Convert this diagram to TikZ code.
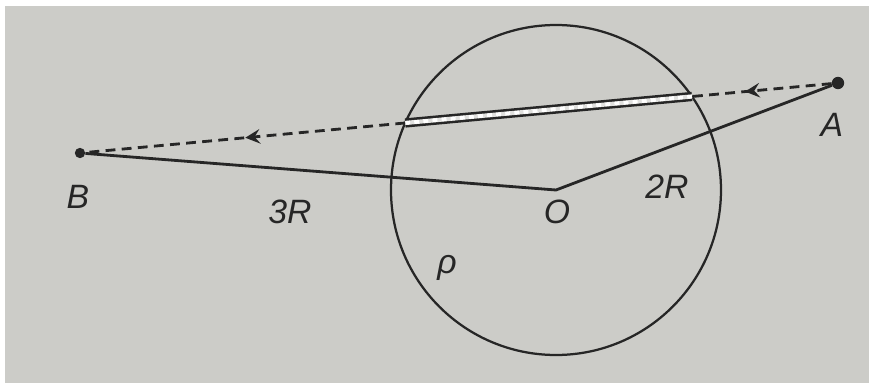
\documentclass[tikz,border=0pt]{standalone}
\usepackage{fontspec}
\setmainfont{Liberation Sans}
\usetikzlibrary{intersections, decorations.markings}
\definecolor{paper}{RGB}{204,204,200}
\definecolor{ink}{RGB}{38,38,38}

\begin{document}
\begin{tikzpicture}[>=stealth, scale=1.0,
  every node/.style={text=ink, font=\fontsize{24}{28}\selectfont\itshape},
  dot/.style={circle, fill=ink, inner sep=3.1pt},
  midarrow/.style={postaction={decorate}, decoration={markings,
    mark=at position #1 with {\arrow[ink, scale=1.5]{stealth}}}}]
  \useasboundingbox (-13.9,-4.825) rectangle (7.825,4.75);
  \fill[white] (-13.9,-4.825) rectangle (7.825,4.75);
  \fill[paper] (-13.775,-4.825) rectangle (7.825,4.6);
  % Centre, ends of the two radii
  \coordinate (O) at (0,0);
  \node[dot] (A) at (7.05,2.675) {};
  \node[dot, inner sep=2.6pt] (B) at (-11.9,0.925) {};
  % Sphere
  \draw[ink, line width=1.6pt, name path=sphere] (O) circle (4.125);
  % Chord through the sphere along AB
  \path[name path=chord] (A.center) -- (B.center);
  \path[name intersections={of=chord and sphere, sort by=chord, by={T2,T1}}];
  % Radii
  \draw[ink, line width=2pt] (B) -- (O) -- (A);
  % Tunnel
  \draw[ink, line width=6.6pt] (T1) -- (T2);
  \draw[paper!60!white, line width=3pt] (T1) -- (T2);
  \draw[white, line width=2.6pt, dash pattern=on 3.5pt off 3pt] (T1) -- (T2);
  % Path outside the sphere
  \draw[ink, line width=2pt, dash pattern=on 7pt off 4.5pt, midarrow=0.62] (A) -- (T2);
  \draw[ink, line width=2pt, dash pattern=on 7pt off 4.5pt, midarrow=0.5] (T1) -- (B);
  % Labels
  \node (labA) at (6.9,1.625) {A};
  \node (labB) at (-11.95,-0.175) {B};
  \node (labO) at (0.025,-0.55) {O};
  \node (labBO) at (-6.65,-0.55) {3R};
  \node (labAO) at (2.775,0.075) {2R};
  \node (labrho) at (-2.725,-1.95) {ρ};
\end{tikzpicture}
\end{document}
